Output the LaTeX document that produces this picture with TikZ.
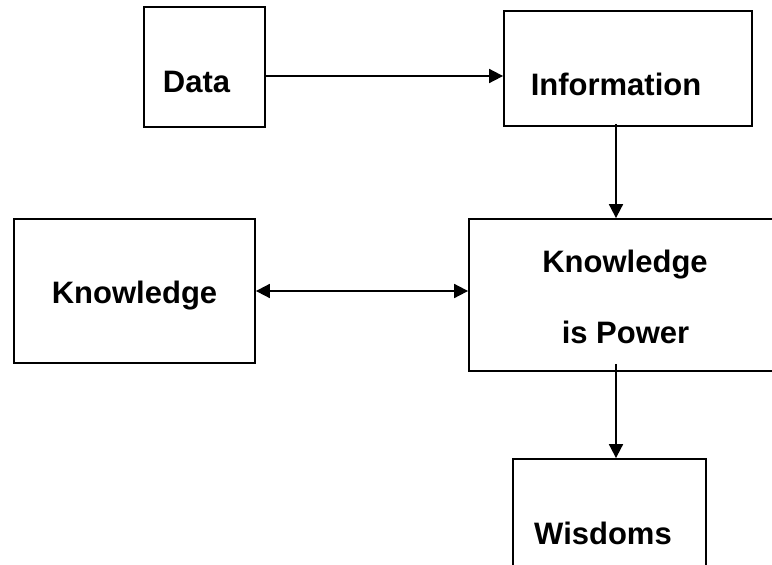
\documentclass[tikz,border=0pt]{standalone}
\usepackage{fontspec}
\setmainfont{Liberation Sans}
\usetikzlibrary{arrows.meta}
\begin{document}
\begin{tikzpicture}[x=1pt,y=-1pt,
  box/.style={draw=black,line width=1.8pt,rectangle,inner sep=0pt},
  lbl/.style={font=\fontsize{31}{36}\selectfont\bfseries,anchor=base,inner sep=0pt},
  arr/.style={line width=1.8pt,-{Triangle[length=14pt,width=14pt]}},
  arrtwo/.style={line width=1.8pt,{Triangle[length=14pt,width=14pt]}-{Triangle[length=14pt,width=14pt]}}]
\clip (0,0) rectangle (772,565);
\fill[white] (0,0) rectangle (772,565);
% boxes
\node[box,minimum width=121pt,minimum height=120pt] (data) at (204.5,67) {};
\node[box,minimum width=248pt,minimum height=115pt] (info) at (628,68.5) {};
\node[box,minimum width=241pt,minimum height=144pt] (know) at (134.5,291) {};
\node[box,minimum width=321pt,minimum height=152pt] (kip) at (629.5,295) {};
\node[box,minimum width=193pt,minimum height=141pt] (wis) at (609.5,529.5) {};
% labels
\node[lbl] (tdata) at (196.5,92) {Data};
\node[lbl] (tinfo) at (616,95) {Information};
\node[lbl] (tknow) at (134.5,303) {Knowledge};
\node[lbl] (tkip1) at (625,272) {Knowledge};
\node[lbl] (tkip2) at (625.5,343) {is Power};
\node[lbl] (twis) at (603,544) {Wisdoms};
% connectors
\draw[arr] ([yshift=-9pt]data.east) -- ([yshift=-9pt]data.east -| info.west);
\draw[arr] ([xshift=-12pt,yshift=3pt]info.south) -- ([xshift=-12pt]info.south |- kip.north);
\draw[arrtwo] (know.east) -- (know.east -| kip.west);
\draw[arr] ([xshift=6.5pt,yshift=8pt]wis.north |- kip.south) -- ([xshift=6.5pt]wis.north);
\end{tikzpicture}
\end{document}
